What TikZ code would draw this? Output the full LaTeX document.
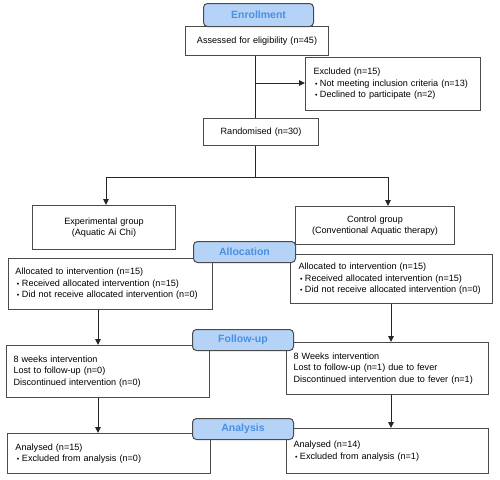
\documentclass[tikz,border=0pt]{standalone}
\usepackage{fontspec}
\setmainfont{Liberation Sans}
\usetikzlibrary{arrows.meta}
\definecolor{hdrfill}{HTML}{B5D3F7}
\definecolor{hdrtext}{HTML}{4A8FE2}
\definecolor{edge}{HTML}{4A4A4A}
\newcommand\bul{\hspace{1.5pt}{\fontsize{7}{7}\selectfont •}\hspace{2.5pt}}
\begin{document}
\begin{tikzpicture}[x=1pt,y=-1pt,
 box/.style={draw=edge, line width=1pt, fill=white, anchor=north west, inner ysep=0pt, font=\fontsize{9.1}{11.5}\selectfont},
 lbox/.style={box, align=left},
 cbox/.style={box, align=center, inner xsep=0pt},
 hdr/.style={draw=edge, line width=1pt, fill=hdrfill, rounded corners=4pt, anchor=north west, inner sep=0pt, text=hdrtext, font=\fontsize{10.5}{12}\selectfont\bfseries},
 conn/.style={draw=black!85, line width=1pt},
 arr/.style={conn, -{Triangle[length=6pt,width=5.5pt]}}
]
\useasboundingbox (0,0) rectangle (500,479);

% boxes
\node[cbox, minimum width=143pt, minimum height=29pt, text width=143pt] (assess) at (185,26) {Assessed for eligibility (n=45)};
\node[lbox, minimum height=53pt, inner xsep=8pt, text width=159pt] (excl) at (305,57) {Excluded (n=15)\\\bul Not meeting inclusion criteria (n=13)\\\bul Declined to participate (n=2)};
\node[cbox, minimum width=115pt, minimum height=27pt, text width=115pt] (rand) at (203,118) {Randomised (n=30)};
\node[cbox, minimum width=143pt, minimum height=44pt, text width=143pt] (exp) at (32,205) {Experimental group\\(Aquatic Ai Chi)};
\node[cbox, minimum width=159pt, minimum height=38pt, text width=159pt] (ctrl) at (295,206) {Control group\\(Conventional Aquatic therapy)};
\node[lbox, minimum height=51pt, inner xsep=7pt, text width=190pt] (allocL) at (8,258) {Allocated to intervention (n=15)\\\bul Received allocated intervention (n=15)\\\bul Did not receive allocated intervention (n=0)};
\node[lbox, minimum height=49pt, inner xsep=8pt, text width=186pt] (allocR) at (290,254) {Allocated to intervention (n=15)\\\bul Received allocated intervention (n=15)\\\bul Did not receive allocated intervention (n=0)};
\node[lbox, minimum height=52pt, inner xsep=7pt, text width=189pt] (fuL) at (6,345) {8 weeks intervention\\Lost to follow-up (n=0)\\Discontinued intervention (n=0)\\[4pt]};
\node[lbox, minimum height=52pt, inner xsep=7pt, text width=188pt] (fuR) at (286,342) {8 Weeks intervention\\Lost to follow-up (n=1) due to fever\\Discontinued intervention due to fever (n=1)\\[6pt]};
\node[lbox, minimum height=40pt, inner xsep=8pt, text width=187pt] (anL) at (7,433) {Analysed (n=15)\\\bul Excluded from analysis (n=0)\\[4pt]};
\node[lbox, minimum height=45pt, inner xsep=7pt, text width=188pt] (anR) at (286,428) {Analysed (n=14)\\\bul Excluded from analysis (n=1)\\[4pt]};

% connectors
\coordinate (sp) at (255,0);
\coordinate (br) at (255,83);
\coordinate (j) at (255,177);
\coordinate (jl) at (106,177);
\coordinate (jr) at (388,177);
\coordinate (cl) at (98,0);
\coordinate (cr) at (391,0);
\draw[conn] (assess.south -| sp) -- (rand.north -| sp);
\draw[arr] (br) -- (br -| excl.west);
\draw[conn] (rand.south -| sp) -- (j);
\draw[conn, {Triangle[length=6pt,width=5.5pt]}-{Triangle[length=6pt,width=5.5pt]}] (exp.north -| jl) -- (jl) -- (jr) -- (ctrl.north -| jr);
\draw[arr] (allocL.south -| cl) -- (fuL.north -| cl);
\draw[arr] (allocR.south -| cr) -- (fuR.north -| cr);
\draw[arr] (fuL.south -| cl) -- (anL.north -| cl);
\draw[arr] (fuR.south -| cr) -- (anR.north -| cr);

% headers
\node[hdr, minimum width=110pt, minimum height=23pt] (enroll) at (203,3) {Enrollment};
\node[hdr, minimum width=102pt, minimum height=21pt] (alloc) at (193,241) {Allocation};
\node[hdr, minimum width=101pt, minimum height=21pt] (follow) at (192,329) {Follow-up};
\node[hdr, minimum width=101pt, minimum height=21pt] (analysis) at (192,418) {Analysis};
\end{tikzpicture}
\end{document}
